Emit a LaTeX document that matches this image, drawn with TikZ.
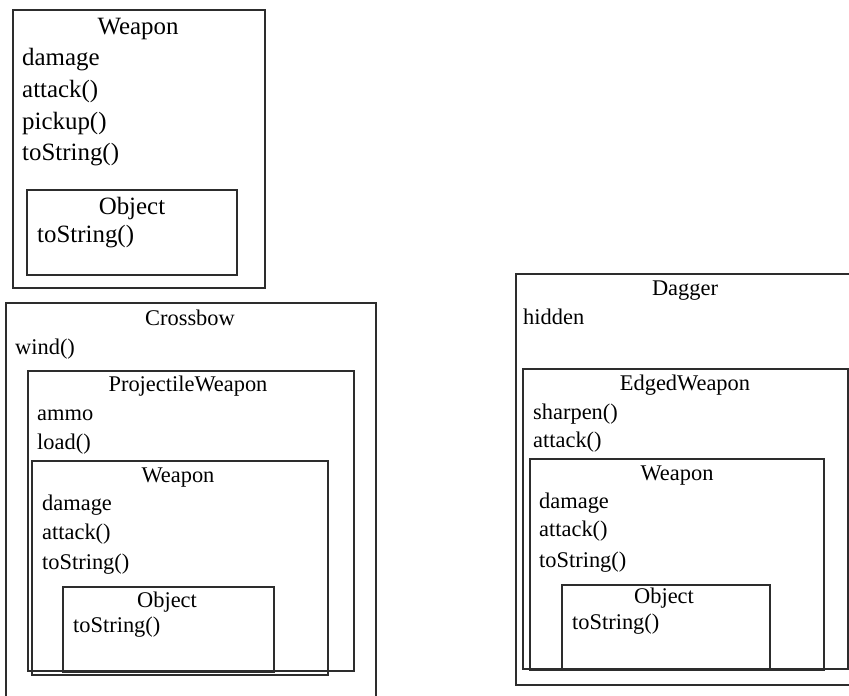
\documentclass[tikz,border=0pt]{standalone}
\usepackage{fontspec}
\setmainfont{Liberation Serif}
\definecolor{edge}{RGB}{45,45,45}
\begin{document}
\begin{tikzpicture}[x=1bp,y=-1bp,
  box/.style={draw=edge,line width=1.6bp},
  big/.style={font=\fontsize{25}{30}\selectfont,inner sep=0pt},
  small/.style={font=\fontsize{22.5}{27}\selectfont,inner sep=0pt},
  lbl/.style={anchor=mid west},
  ttl/.style={anchor=mid}]
\useasboundingbox (0,0) rectangle (849,696);
\clip (0,0) rectangle (849,696);
% ---------- top Weapon ----------
\draw[box] (13,10) rectangle (265,288);
\node[big,ttl] (w1t) at (138,32) {Weapon};
\node[big,lbl] (w1a) at (22,63) {damage};
\node[big,lbl] (w1b) at (22,95) {attack()};
\node[big,lbl] (w1c) at (22,127) {pickup()};
\node[big,lbl] (w1d) at (22,158) {toString()};
\draw[box] (27,190) rectangle (237,275);
\node[big,ttl] (o1t) at (132,212) {Object};
\node[big,lbl] (o1a) at (37,240) {toString()};
% ---------- Crossbow ----------
\draw[box] (6,303) rectangle (376,700);
\node[small,ttl] (ct) at (190,323) {Crossbow};
\node[small,lbl] (ca) at (15,352) {wind()};
\draw[box] (28,371) rectangle (354,671);
\node[small,ttl] (pt) at (188,389) {ProjectileWeapon};
\node[small,lbl] (pa) at (37,418) {ammo};
\node[small,lbl] (pb) at (37,447) {load()};
\draw[box] (32,461) rectangle (328,675);
\node[small,ttl] (w2t) at (178,480) {Weapon};
\node[small,lbl] (w2a) at (42,508) {damage};
\node[small,lbl] (w2b) at (42,537) {attack()};
\node[small,lbl] (w2c) at (42,567) {toString()};
\draw[box] (63,587) rectangle (274,672);
\node[small,ttl] (o2t) at (167,605) {Object};
\node[small,lbl] (o2a) at (73,630) {toString()};
% ---------- Dagger ----------
\draw[box] (516,274) rectangle (870,685);
\node[small,ttl] (dt) at (685,293) {Dagger};
\node[small,lbl] (da) at (523,322) {hidden};
\draw[box] (523,369) rectangle (848,669);
\node[small,ttl] (et) at (685,388) {EdgedWeapon};
\node[small,lbl] (ea) at (533,417) {sharpen()};
\node[small,lbl] (eb) at (533,445) {attack()};
\draw[box] (530,459) rectangle (824,670);
\node[small,ttl] (w3t) at (677,478) {Weapon};
\node[small,lbl] (w3a) at (539,506) {damage};
\node[small,lbl] (w3b) at (539,534) {attack()};
\node[small,lbl] (w3c) at (539,565) {toString()};
\draw[box] (562,585) rectangle (770,669);
\node[small,ttl] (o3t) at (664,601) {Object};
\node[small,lbl] (o3a) at (572,627) {toString()};
\end{tikzpicture}
\end{document}
